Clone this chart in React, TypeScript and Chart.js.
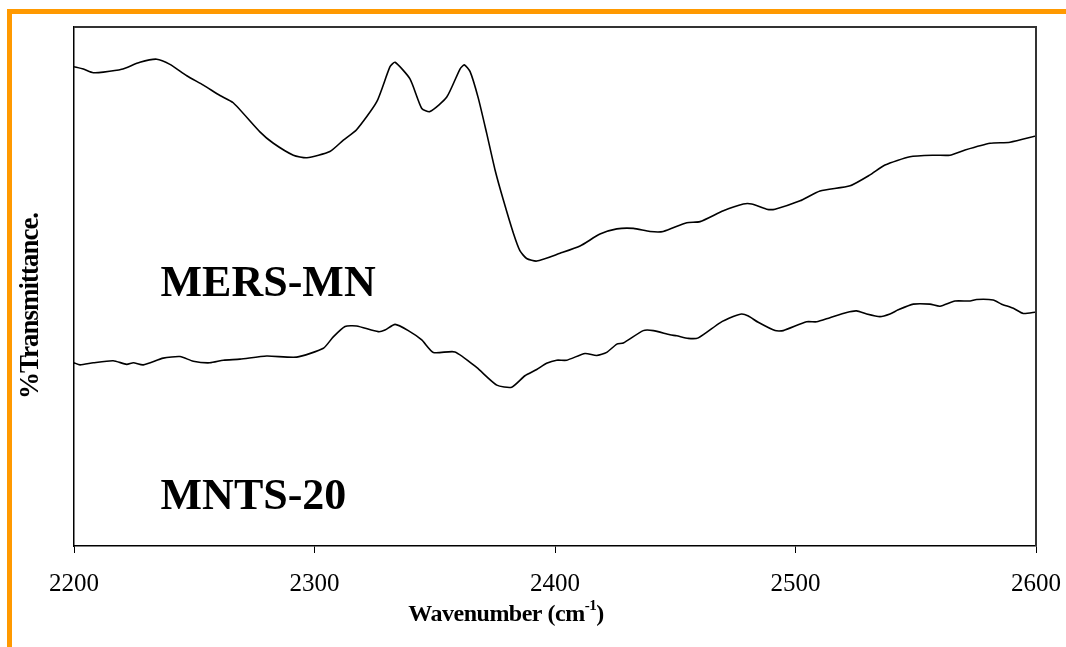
import React, { useEffect, useRef } from "react";
import { Chart, registerables } from "chart.js";

Chart.register(...registerables);

const mersWavenumbers = [2200, 2203.9, 2208.0, 2212.2, 2219.8, 2227.4, 2234.4, 2239.9, 2246.9, 2253.8, 2260.7, 2266.2, 2277.3, 2282.9, 2291.2, 2296.8, 2306.4, 2312.0, 2317.5, 2325.9, 2331.4, 2333.5, 2339.7, 2344.6, 2348.0, 2355.0, 2360.5, 2362.3, 2364.7, 2368.1, 2371.6, 2375.1, 2378.5, 2382.7, 2385.4, 2388.2, 2392.4, 2402.1, 2410.4, 2418.7, 2425.7, 2432.6, 2439.5, 2445.0, 2454.8, 2460.3, 2470.0, 2478.3, 2481.8, 2488.0, 2491.5, 2501.9, 2510.2, 2522.7, 2531.0, 2537.2, 2547.6, 2558.0, 2564.2, 2570.5, 2580.9, 2589.2, 2600];
const mersValues = [92.35, 91.9, 91.2, 91.3, 91.85, 93.2, 93.8, 92.8, 90.6, 88.8, 86.8, 85.4, 79.8, 77.6, 75.3, 74.8, 76.0, 78.2, 80.2, 85.6, 92.35, 93.2, 90.0, 84.3, 83.7, 86.5, 91.9, 92.7, 91.4, 86.3, 79.5, 72.4, 66.7, 60.25, 56.9, 55.4, 54.9, 56.4, 57.8, 60.1, 61.1, 61.2, 60.6, 60.6, 62.3, 62.5, 64.6, 65.9, 65.9, 64.9, 64.9, 66.5, 68.4, 69.4, 71.5, 73.4, 75.0, 75.3, 75.3, 76.3, 77.6, 77.8, 79.0];

const mntsWavenumbers = [2200, 2202.5, 2208.0, 2216.3, 2221.9, 2224.7, 2228.8, 2237.1, 2244.1, 2249.6, 2256.5, 2262.1, 2269.0, 2280.1, 2292.6, 2303.7, 2307.8, 2312.7, 2317.5, 2326.5, 2329.3, 2333.5, 2339.0, 2344.6, 2349.4, 2358.4, 2367.4, 2375.8, 2382.0, 2387.5, 2392.4, 2396.5, 2400.7, 2404.9, 2412.5, 2417.3, 2421.5, 2425.7, 2428.4, 2436.7, 2440.9, 2447.8, 2450.6, 2455.4, 2459.6, 2468.6, 2474.1, 2477.6, 2480.4, 2484.5, 2491.5, 2494.9, 2504.6, 2508.8, 2514.3, 2521.3, 2525.4, 2529.6, 2535.1, 2539.3, 2542.7, 2549.0, 2555.9, 2560.1, 2566.3, 2572.6, 2575.3, 2582.2, 2585.7, 2590.6, 2594.7, 2600];
const mntsValues = [35.3, 34.9, 35.3, 35.7, 35.0, 35.3, 34.9, 36.2, 36.5, 35.6, 35.3, 35.8, 36.0, 36.6, 36.4, 38.1, 40.3, 42.3, 42.4, 41.3, 41.6, 42.7, 41.5, 39.7, 37.3, 37.4, 34.4, 31.0, 30.6, 32.8, 34.0, 35.2, 35.8, 35.8, 37.1, 36.7, 37.3, 38.9, 39.1, 41.5, 41.5, 40.7, 40.5, 40.0, 40.1, 43.0, 44.2, 44.7, 44.3, 43.1, 41.5, 41.5, 43.2, 43.2, 44.0, 45.0, 45.3, 44.7, 44.2, 44.7, 45.5, 46.6, 46.6, 46.2, 47.2, 47.2, 47.5, 47.4, 46.6, 45.8, 44.8, 45.1];

const xTicks = [2200, 2300, 2400, 2500, 2600];
const seriesLabels = ["MERS-MN", "MNTS-20"];
const labelPositions = [
  { x: 2236, y: 50.3 },
  { x: 2236, y: 9.3 },
];

const SERIF = '"Liberation Serif", "DejaVu Serif", serif';

const decorPlugin = {
  id: "decor",
  beforeDraw(chart: any) {
    const ctx = chart.ctx;
    ctx.save();
    ctx.fillStyle = "#ffffff";
    ctx.fillRect(0, 0, chart.width, chart.height);
    ctx.fillStyle = "#FF9900";
    ctx.fillRect(7, 9, chart.width - 7, 5);
    ctx.fillRect(7, 9, 5, chart.height - 9);
    ctx.restore();
  },
  afterDraw(chart: any) {
    const ctx = chart.ctx;
    const { left, right, top, bottom } = chart.chartArea;
    const xs = chart.scales.x;
    const ys = chart.scales.y;
    ctx.save();
    ctx.strokeStyle = "#333333";
    ctx.lineWidth = 2;
    ctx.beginPath();
    ctx.moveTo(left, top);
    ctx.lineTo(right, top);
    ctx.lineTo(right, bottom);
    ctx.stroke();

    ctx.fillStyle = "#000";
    ctx.font = `bold 44px ${SERIF}`;
    ctx.textBaseline = "middle";
    ctx.textAlign = "left";
    seriesLabels.forEach((t, i) => {
      const p = labelPositions[i];
      ctx.fillText(t, xs.getPixelForValue(p.x), ys.getPixelForValue(p.y));
    });

    // x axis title with superscript
    (ctx as any).letterSpacing = "-0.5px";
    ctx.textBaseline = "alphabetic";
    const main = "Wavenumber (cm";
    const sup = "-1";
    const tail = ")";
    const big = `bold 24px ${SERIF}`;
    const small = `bold 15px ${SERIF}`;
    ctx.font = big;
    const w1 = ctx.measureText(main).width;
    ctx.font = small;
    const w2 = ctx.measureText(sup).width;
    ctx.font = big;
    const w3 = ctx.measureText(tail).width;
    const total = w1 + w2 + w3;
    const x0 = 506 - total / 2;
    const base = 621;
    ctx.fillText(main, x0, base);
    ctx.font = small;
    ctx.fillText(sup, x0 + w1, base - 11);
    ctx.font = big;
    ctx.fillText(tail, x0 + w1 + w2, base);

    // y axis title
    (ctx as any).letterSpacing = "-1px";
    ctx.translate(31, 306);
    ctx.rotate(-Math.PI / 2);
    ctx.textAlign = "center";
    ctx.textBaseline = "middle";
    ctx.font = `bold 27px ${SERIF}`;
    ctx.fillText("%Transmittance.", 0, 0);
    ctx.restore();
  },
};

export default function App() {
  const ref = useRef<HTMLCanvasElement>(null);
  useEffect(() => {
    if (!ref.current) return;
    const chart = new Chart(ref.current, {
      type: "line",
      data: {
        datasets: [
          {
            label: seriesLabels[0],
            data: mersWavenumbers.map((x, i) => ({ x, y: mersValues[i] })),
            borderColor: "#000",
            borderWidth: 1.6,
            pointRadius: 0,
            tension: 0.2,
          },
          {
            label: seriesLabels[1],
            data: mntsWavenumbers.map((x, i) => ({ x, y: mntsValues[i] })),
            borderColor: "#000",
            borderWidth: 1.6,
            pointRadius: 0,
            tension: 0.2,
          },
        ],
      },
      plugins: [decorPlugin],
      options: {
        responsive: false,
        animation: false,
        layout: { padding: { top: 27, right: 30, left: 0, bottom: 0 } },
        plugins: { legend: { display: false }, tooltip: { enabled: false } },
        scales: {
          x: {
            type: "linear",
            min: 2200,
            max: 2600,
            afterBuildTicks: (s: any) => {
              s.ticks = xTicks.map((v) => ({ value: v }));
            },
            afterFit: (s: any) => {
              s.height = 101;
              s.paddingLeft = 0;
              s.paddingRight = 0;
            },
            grid: { drawOnChartArea: false, drawTicks: true, tickLength: 7, color: "#000" },
            border: { display: true, color: "#000", width: 1.5 },
            ticks: {
              color: "#000",
              font: { family: SERIF, size: 25 },
              padding: 16,
              maxRotation: 0,
              callback: (v: any) => String(v),
            },
          },
          y: {
            type: "linear",
            min: 0,
            max: 100,
            afterFit: (s: any) => {
              s.width = 74;
            },
            grid: { display: false },
            border: { display: true, color: "#000", width: 1.5 },
            ticks: { display: false },
          },
        },
      },
    });
    return () => chart.destroy();
  }, []);
  return (
    <div style={{ position: "absolute", left: 0, top: 0, width: 1066, height: 647 }}>
      <canvas ref={ref} width={1066} height={647} style={{ display: "block" }} />
    </div>
  );
}
